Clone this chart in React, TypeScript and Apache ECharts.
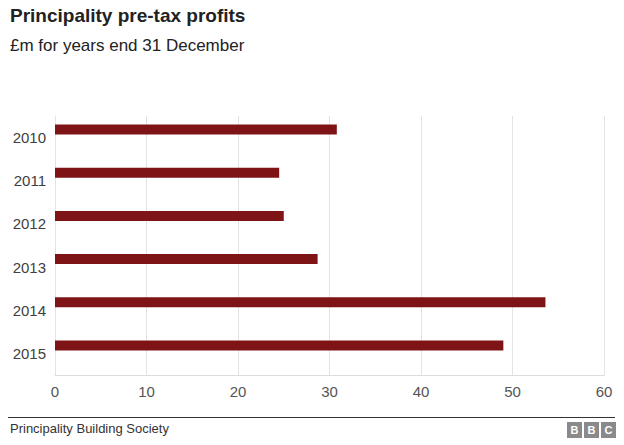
import React, { useEffect, useRef } from "react";
import * as echarts from "echarts";

const years = ["2010", "2011", "2012", "2013", "2014", "2015"];
const profits = [30.8, 24.5, 25.0, 28.7, 53.6, 49.0];
const xTicks = [0, 10, 20, 30, 40, 50, 60];

export default function App() {
  const ref = useRef<HTMLDivElement>(null);
  useEffect(() => {
    const chart = echarts.init(ref.current!, null, { renderer: "svg" });
    const font = "'Liberation Sans', Arial, Helvetica, sans-serif";
    chart.setOption({
      animation: false,
      textStyle: { fontFamily: font },
      grid: { left: 55, right: 20, top: 116, bottom: 70 },
      xAxis: {
        type: "value",
        min: xTicks[0],
        max: xTicks[xTicks.length - 1],
        interval: 10,
        axisLine: { show: true, onZero: false, lineStyle: { color: "#dcdcdc" } },
        axisTick: { show: false },
        splitLine: { show: true, lineStyle: { color: "#e3e3e3", width: 1 } },
        axisLabel: { color: "#555", fontSize: 15, margin: 9, fontFamily: font },
      },
      yAxis: {
        type: "category",
        data: years,
        inverse: true,
        axisLine: { show: true, onZero: false, lineStyle: { color: "#e3e3e3" } },
        axisTick: { show: false },
        axisLabel: { color: "#404040", fontSize: 15, margin: 9, fontFamily: font },
      },
      series: [
        {
          type: "bar",
          data: profits,
          barWidth: 10,
          barGap: "60%",
          itemStyle: { color: "#7f1416" },
        },
        {
          type: "bar",
          data: years.map(() => null),
          barWidth: 10,
          barGap: "60%",
          itemStyle: { color: "transparent" },
        },
      ],
      graphic: [
        {
          type: "text",
          left: 10,
          top: 6,
          style: { text: "Principality pre-tax profits", font: `bold 19px ${font}`, fill: "#222" },
        },
        {
          type: "text",
          left: 10,
          top: 37,
          style: { text: "£m for years end 31 December", font: `17px ${font}`, fill: "#222" },
        },
        {
          type: "line",
          shape: { x1: 8, y1: 417.5, x2: 615, y2: 417.5 },
          style: { stroke: "#333", lineWidth: 1 },
        },
        {
          type: "text",
          left: 10,
          top: 422,
          style: { text: "Principality Building Society", font: `13px ${font}`, fill: "#333" },
        },
        ...["B", "B", "C"].flatMap((ch, i) => [
          {
            type: "rect",
            shape: { x: 567 + i * 17, y: 422, width: 15, height: 16 },
            style: { fill: "#8a8a8a" },
          },
          {
            type: "text",
            x: 567 + i * 17 + 7.5,
            y: 430,
            style: {
              text: ch,
              font: `bold 11px ${font}`,
              fill: "#fff",
              align: "center",
              verticalAlign: "middle",
            },
          },
        ]),
      ],
    });
    return () => chart.dispose();
  }, []);
  return <div ref={ref} style={{ width: 624, height: 445, position: "absolute", left: 0, top: 0 }} />;
}
